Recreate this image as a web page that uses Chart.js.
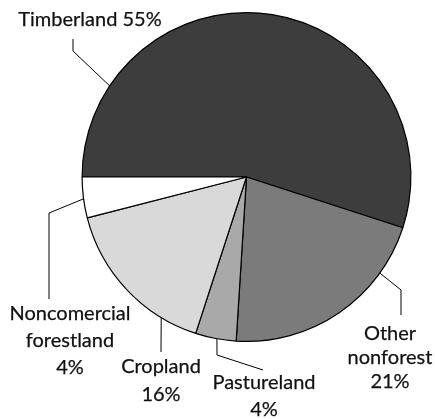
<!DOCTYPE html>
<html>
<head>
<meta charset="utf-8">
<script src="https://cdn.jsdelivr.net/npm/chart.js@4.4.0/dist/chart.umd.min.js"></script>
<style>
  html, body { margin: 0; padding: 0; background: #fff; }
  #wrap { width: 435px; height: 419px; }
</style>
</head>
<body>
<div id="wrap"><canvas id="pieChart" width="435" height="419"></canvas></div>
<script>
// data, going clockwise from 9 o'clock
const categories = ['Timberland', 'Other nonforest', 'Pastureland', 'Cropland', 'Noncomercial forestland'];
const shares = [55, 21, 4, 16, 4];
const sliceColors = ['#3d3d3d', '#7b7b7b', '#a9a9a9', '#d9d9d9', '#ffffff'];

// label text lines per slice
const labelLines = [
    ['Timberland 55%'],
    ['Other', 'nonforest', '21%'],
    ['Pastureland', '4%'],
    ['Cropland', '16%'],
    ['Noncomercial', 'forestland', '4%']
];

// where each label sits and how its leader line bends (pixels)
// t = position along the slice arc (0..1) where the line touches the pie
const labelLayout = [
    { t: 0.17, bend: [[73, 51], [73, 39]], x: 90, y: 20, lh: 27 },
    { t: 0.235, bend: [[401, 290], [401, 315]], x: 390, y: 334, lh: 24 },
    { t: 0.47, bend: [[217, 355], [263, 370]], x: 264, y: 383, lh: 27 },
    { t: 0.23, bend: [[161, 352]], x: 161, y: 367, lh: 28 },
    { t: 0.47, bend: [[49, 213], [49, 299]], x: 70, y: 314, lh: 27 }
];

const leaderLabels = {
    id: 'leaderLabels',
    afterDraw(chart) {
        const ctx = chart.ctx;
        const arcs = chart.getDatasetMeta(0).data;
        ctx.save();
        ctx.fillStyle = '#111';
        ctx.font = '20px Lato, "Open Sans", sans-serif';
        ctx.textAlign = 'center';
        ctx.textBaseline = 'middle';
        arcs.forEach((arc, i) => {
            const lay = labelLayout[i];
            const a = arc.startAngle + (arc.endAngle - arc.startAngle) * lay.t;
            const sx = arc.x + Math.cos(a) * arc.outerRadius;
            const sy = arc.y + Math.sin(a) * arc.outerRadius;
            ctx.lineWidth = 1;
            ctx.strokeStyle = '#000';
            ctx.beginPath();
            ctx.moveTo(sx, sy);
            lay.bend.forEach(p => ctx.lineTo(p[0], p[1]));
            ctx.stroke();
            // thin stroke over the text so it looks a touch heavier
            ctx.lineWidth = 0.25;
            ctx.strokeStyle = '#111';
            labelLines[i].forEach((txt, k) => {
                ctx.fillText(txt, lay.x, lay.y + k * lay.lh);
                ctx.strokeText(txt, lay.x, lay.y + k * lay.lh);
            });
        });
        ctx.restore();
    }
};

const dataPie = {
    labels: categories,
    datasets: [{
        data: shares,
        backgroundColor: sliceColors,
        borderColor: '#000',
        borderWidth: 1.2
    }]
};

const configPie = {
    type: 'pie',
    data: dataPie,
    options: {
        responsive: false,
        animation: false,
        rotation: -90,
        layout: {
            padding: { left: 81, right: 23, top: 12, bottom: 77 }
        },
        plugins: {
            legend: { display: false },
            tooltip: { enabled: false }
        }
    },
    plugins: [leaderLabels]
};

const getPie = document.getElementById('pieChart').getContext('2d');
const myPie = new Chart(getPie, configPie);
</script>
</body>
</html>
